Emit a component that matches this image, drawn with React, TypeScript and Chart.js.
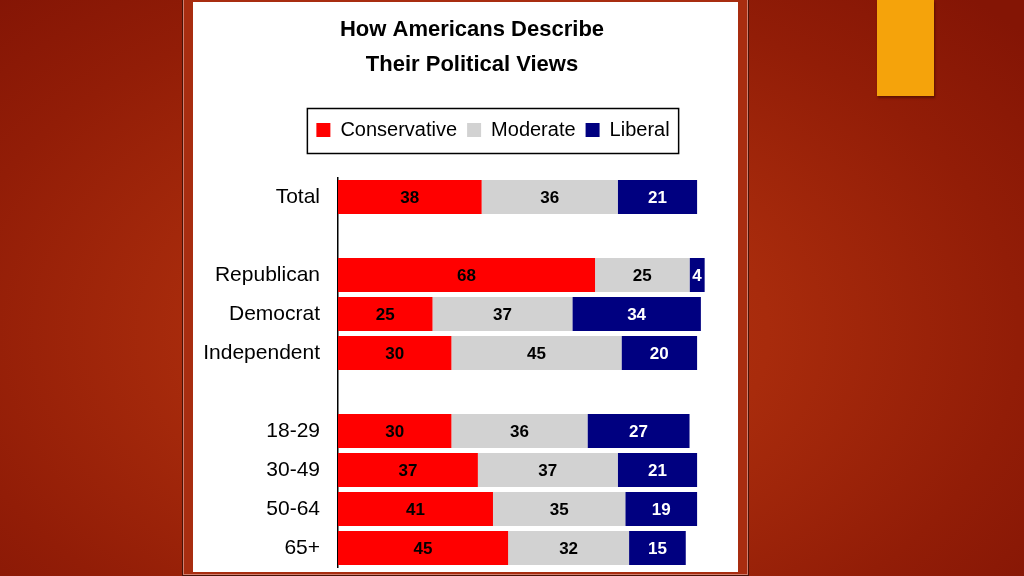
import React, { useEffect, useRef } from "react";
import { Chart, registerables } from "chart.js";

Chart.register(...registerables);

const titleLines = ["How Americans Describe", "Their Political Views"];
const categories = ["Total", "", "Republican", "Democrat", "Independent", "", "18-29", "30-49", "50-64", "65+"];
const conservative = [38, null, 68, 25, 30, null, 30, 37, 41, 45];
const moderate = [36, null, 25, 37, 45, null, 36, 37, 35, 32];
const liberal = [21, null, 4, 34, 20, null, 27, 21, 19, 15];
const seriesNames = ["Conservative", "Moderate", "Liberal"];
const seriesColors = ["#ff0000", "#d2d2d2", "#000080"];
const labelColors = ["#000000", "#000000", "#ffffff"];

const TITLE_SHIFT = 17.5;
const LEGEND_SHIFT = 38.5;

const valueLabels = {
  id: "valueLabels",
  afterDatasetsDraw(chart: any) {
    const ctx = chart.ctx;
    ctx.save();
    ctx.font = "bold 17px 'Liberation Sans', Arial, sans-serif";
    ctx.textAlign = "center";
    ctx.textBaseline = "middle";
    chart.data.datasets.forEach((ds: any, di: number) => {
      const meta = chart.getDatasetMeta(di);
      meta.data.forEach((el: any, i: number) => {
        const v = ds.data[i];
        if (v === null || v === undefined) return;
        const p = el.getProps(["x", "y", "base"], true);
        ctx.fillStyle = labelColors[di];
        ctx.fillText(String(v), (p.x + p.base) / 2, p.y + 1);
      });
    });
    ctx.restore();
  },
};

const legendFrame = {
  id: "legendFrame",
  afterLayout(chart: any) {
    const lg = chart.legend;
    if (lg) {
      lg.left += LEGEND_SHIFT;
      lg.right += LEGEND_SHIFT;
    }
    const tb = chart.titleBlock;
    if (tb) {
      tb.left += TITLE_SHIFT;
      tb.right += TITLE_SHIFT;
    }
  },
  afterDraw(chart: any) {
    const lg = chart.legend;
    if (!lg || !lg.legendHitBoxes || !lg.legendHitBoxes.length) return;
    const hb = lg.legendHitBoxes;
    let l = Infinity, r = -Infinity, t = Infinity, b = -Infinity;
    hb.forEach((h: any) => {
      l = Math.min(l, h.left);
      r = Math.max(r, h.left + h.width);
      t = Math.min(t, h.top);
      b = Math.max(b, h.top + h.height);
    });
    const ctx = chart.ctx;
    ctx.save();
    ctx.strokeStyle = "#000";
    ctx.lineWidth = 1.5;
    ctx.strokeRect(l - 9, t - 11.5, r - l + 18, b - t + 25);
    ctx.restore();
  },
};

function BarChart() {
  const ref = useRef<HTMLCanvasElement | null>(null);
  useEffect(() => {
    if (!ref.current) return;
    const chart = new Chart(ref.current, {
      type: "bar",
      data: {
        labels: categories,
        datasets: [conservative, moderate, liberal].map((d, i) => ({
          label: seriesNames[i],
          data: d,
          backgroundColor: seriesColors[i],
          borderWidth: 0,
          categoryPercentage: 1,
          barPercentage: 0.87,
        })),
      },
      options: {
        indexAxis: "y",
        animation: false,
        responsive: false,
        maintainAspectRatio: false,
        layout: { padding: { left: 0, right: 22, top: 0, bottom: 4.5 } },
        scales: {
          x: {
            stacked: true,
            position: "top",
            display: true,
            min: 0,
            max: 100,
            grid: { display: false },
            border: { display: false },
            ticks: { display: false },
            afterFit(scale: any) {
              scale.height = 27.5;
            },
          },
          y: {
            stacked: true,
            grid: { display: true, drawOnChartArea: false, drawTicks: true, tickLength: 18, color: "rgba(0,0,0,0)" },
            border: { display: true, color: "#000", width: 1.5 },
            ticks: {
              color: "#000",
              padding: 0,
              font: { family: "'Liberation Sans', Arial, sans-serif", size: 21, lineHeight: 0.4 },
            },
            afterFit(scale: any) {
              scale.width = 145;
            },
          },
        },
        plugins: {
          title: {
            display: true,
            text: titleLines,
            color: "#000",
            font: { family: "'Liberation Sans', Arial, sans-serif", size: 22, weight: "bold", lineHeight: 35 / 22 },
            padding: { top: 10, bottom: 28 },
          },
          legend: {
            display: true,
            position: "top",
            labels: {
              color: "#000",
              boxWidth: 14,
              boxHeight: 14,
              padding: 10,
              font: { family: "'Liberation Sans', Arial, sans-serif", size: 20 },
            },
          },
          tooltip: { enabled: false },
        },
      },
      plugins: [valueLabels, legendFrame],
    });
    return () => chart.destroy();
  }, []);
  return <canvas ref={ref} width={545} height={570} style={{ display: "block", width: 545, height: 570 }} />;
}

export default function App() {
  return (
    <div
      style={{
        position: "fixed",
        left: 0,
        top: 0,
        width: 1024,
        height: 576,
        overflow: "hidden",
        background:
          "radial-gradient(ellipse 70% 80% at 47% 58%, #b8360f 0%, #a82b0c 40%, #921d07 75%, #841505 100%)",
      }}
    >
      <div
        style={{
          position: "absolute",
          left: 182,
          top: -10,
          width: 565,
          height: 584,
          border: "1px solid #4a1206",
          boxShadow: "inset 0 0 0 1px #d08070",
          background: "#a82d10",
        }}
      />
      <div
        style={{
          position: "absolute",
          left: 193,
          top: 2,
          width: 545,
          height: 570,
          background: "#ffffff",
        }}
      >
        <BarChart />
      </div>
      <div
        style={{
          position: "absolute",
          left: 877,
          top: 0,
          width: 57,
          height: 96,
          background: "#f5a30b",
          boxShadow: "1px 2px 2px rgba(60,10,0,0.6)",
        }}
      />
    </div>
  );
}
